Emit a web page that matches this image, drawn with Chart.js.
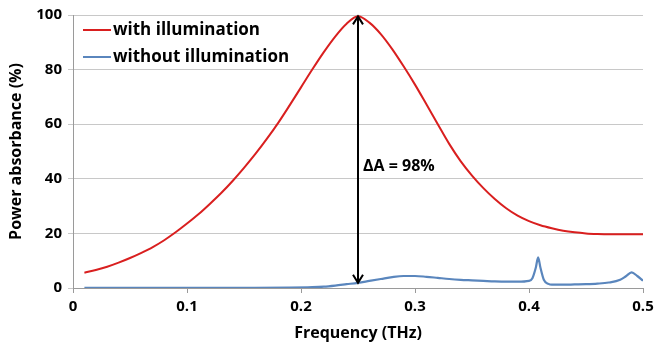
<!DOCTYPE html>
<html>
<head>
<meta charset="utf-8">
<script src="https://cdn.jsdelivr.net/npm/chart.js@4/dist/chart.umd.min.js"></script>
<style>
  html, body { margin: 0; padding: 0; background: #fff; }
  #wrap { width: 654px; height: 347px; }
</style>
</head>
<body>
<div id="wrap"><canvas id="chart"></canvas></div>
<script>
// values
const withFreq = [0.01,0.02,0.03,0.04,0.05,0.06,0.07,0.08,0.09,0.10,0.11,0.12,0.13,0.14,0.15,0.16,0.17,0.18,0.19,0.20,
  0.21,0.22,0.23,0.24,0.25,0.26,0.27,0.28,0.29,0.30,0.31,0.32,0.33,0.34,0.35,0.36,0.37,0.38,0.39,0.40,
  0.41,0.42,0.43,0.44,0.45,0.46,0.47,0.48,0.49,0.50];
const withAbs = [5.6,6.6,7.8,9.3,11.0,12.9,15.0,17.5,20.4,23.6,27.0,30.8,34.8,39.2,44.0,49.1,54.6,60.5,66.9,73.5,
  80.1,86.4,92.1,96.8,99.5,97.2,93.0,87.5,81.2,74.5,67.3,60.0,52.8,46.5,41.2,36.6,32.6,29.2,26.5,24.5,
  23.0,21.9,21.0,20.4,20.0,19.8,19.7,19.7,19.7,19.7];

const withoutFreq = [0.01,0.05,0.10,0.15,0.19,0.21,0.22,0.23,0.24,0.25,0.26,0.27,0.28,0.29,0.30,0.31,0.32,0.33,0.34,0.35,
  0.36,0.37,0.38,0.39,0.40,0.403,0.406,0.408,0.410,0.413,0.417,0.42,0.43,0.44,0.45,0.46,0.47,0.48,0.485,0.49,0.495,0.50];
const withoutAbs = [0.1,0.1,0.1,0.1,0.15,0.3,0.5,0.9,1.4,1.9,2.6,3.3,4.0,4.4,4.4,4.1,3.7,3.3,3.0,2.8,
  2.6,2.4,2.3,2.3,2.6,3.6,7.5,11.2,7.5,3.0,1.5,1.2,1.2,1.3,1.4,1.6,2.0,3.0,4.3,5.7,4.4,2.7];

const seriesNames = ['with illumination', 'without illumination'];
const seriesColors = ['#d91f1f', '#5a86bd'];

const xTicks = [0, 0.1, 0.2, 0.3, 0.4, 0.5];
const yTicks = [0, 20, 40, 60, 80, 100];

const arrowX = 0.25;
const arrowRange = [1.9, 99.5];
const arrowLabel = '\u0394A = 98%';

const FONT = '"Open Sans", "Liberation Sans", sans-serif';

const annot = {
  id: 'annot',
  afterDatasetsDraw(c) {
    const { ctx, scales: { x, y } } = c;
    ctx.save();
    // double arrow at the peak
    const px = x.getPixelForValue(arrowX);
    const y0 = y.getPixelForValue(arrowRange[0]);
    const y1 = y.getPixelForValue(arrowRange[1]);
    ctx.strokeStyle = '#000';
    ctx.lineWidth = 2;
    ctx.beginPath();
    ctx.moveTo(px, y0); ctx.lineTo(px, y1);
    ctx.moveTo(px - 5, y1 + 8); ctx.lineTo(px, y1); ctx.lineTo(px + 5, y1 + 8);
    ctx.moveTo(px - 5, y0 - 8); ctx.lineTo(px, y0); ctx.lineTo(px + 5, y0 - 8);
    ctx.stroke();
    ctx.fillStyle = '#000';
    ctx.font = 'bold 16px ' + FONT;
    ctx.textBaseline = 'middle';
    ctx.fillText(arrowLabel, px + 5, 166);
    // legend
    ctx.font = 'bold 17px ' + FONT;
    seriesNames.forEach((n, i) => {
      const ly = 30 + i * 27;
      ctx.strokeStyle = seriesColors[i];
      ctx.lineWidth = 2;
      ctx.beginPath(); ctx.moveTo(83, ly); ctx.lineTo(111, ly); ctx.stroke();
      ctx.fillStyle = '#000';
      ctx.fillText(n, 113, ly);
    });
    ctx.restore();
  }
};

new Chart(document.getElementById('chart'), {
  type: 'line',
  data: {
    datasets: [
      { label: seriesNames[0], data: withFreq.map((f, i) => ({ x: f, y: withAbs[i] })),
        borderColor: seriesColors[0], borderWidth: 2, pointRadius: 0, cubicInterpolationMode: 'monotone' },
      { label: seriesNames[1], data: withoutFreq.map((f, i) => ({ x: f, y: withoutAbs[i] })),
        borderColor: seriesColors[1], borderWidth: 2.2, pointRadius: 0, cubicInterpolationMode: 'monotone' }
    ]
  },
  options: {
    responsive: true,
    maintainAspectRatio: false,
    animation: false,
    layout: { padding: { top: 7, right: 11, left: 3, bottom: 0 } },
    plugins: { legend: { display: false }, tooltip: { enabled: false } },
    scales: {
      x: {
        type: 'linear', min: 0, max: 0.5,
        afterBuildTicks: s => { s.ticks = xTicks.map(v => ({ value: v })); },
        afterFit: s => { s.height = 59; s.paddingRight = 0; s.paddingLeft = 0; },
        ticks: { color: '#000', font: { family: FONT, size: 15, weight: 'bold' }, padding: 5, maxRotation: 0,
          callback: v => String(v) },
        grid: { drawOnChartArea: false, drawTicks: true, tickLength: 5, color: '#9a9a9a' },
        border: { color: '#9a9a9a', width: 1 },
        title: { display: true, text: 'Frequency (THz)', color: '#000',
          font: { family: FONT, size: 16, weight: 'bold' }, padding: { top: 2 } }
      },
      y: {
        min: 0, max: 100,
        afterBuildTicks: s => { s.ticks = yTicks.map(v => ({ value: v })); },
        afterFit: s => { s.width = 70; },
        ticks: { color: '#000', font: { family: FONT, size: 15, weight: 'bold' }, padding: 6 },
        grid: { color: '#c8c8c8', tickLength: 5, lineWidth: 1 },
        border: { color: '#9a9a9a', width: 1 },
        title: { display: true, text: 'Power absorbance (%)', color: '#000',
          font: { family: FONT, size: 16, weight: 'bold' }, padding: { bottom: 2 } }
      }
    }
  },
  plugins: [annot]
});
</script>
</body>
</html>
